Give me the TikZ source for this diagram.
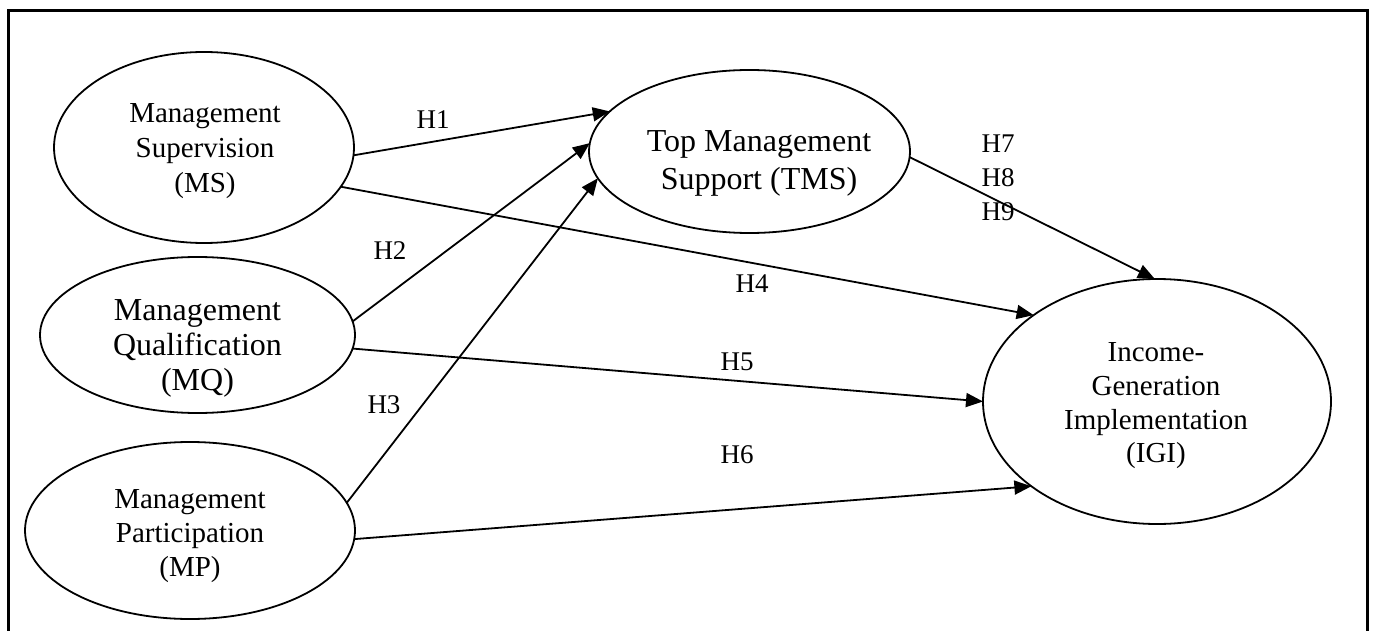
\documentclass[tikz,border=0pt]{standalone}
\usepackage{fontspec}
\setmainfont{Liberation Serif}
\usetikzlibrary{arrows.meta,shapes.geometric}
\tikzset{
  construct/.style={ellipse,draw,line width=1.8pt,inner sep=0pt,outer sep=0pt},
  ctext/.style={align=center,inner sep=0pt},
  hyp/.style={inner sep=0pt,font=\fontsize{27}{32}\selectfont},
  arr/.style={line width=1.8pt,-{Triangle[length=17pt,width=14pt]}},
}
\begin{document}
\begin{tikzpicture}[x=1pt,y=-1pt]
\useasboundingbox (0,0) rectangle (1373,631);
% frame
\draw[line width=3pt] (8,650) -- (8,11) -- (1367,11) -- (1367,650);
% ellipses
\node[construct,minimum width=300pt,minimum height=191pt] (MS) at (204,147.5) {};
\node[construct,minimum width=315pt,minimum height=156pt] (MQ) at (197.5,335) {};
\node[construct,minimum width=330pt,minimum height=177pt] (MP) at (190,530.5) {};
\node[construct,minimum width=321pt,minimum height=163pt] (TMS) at (749.5,151.5) {};
\node[construct,minimum width=348pt,minimum height=245pt] (IGI) at (1157,401.5) {};
% texts
\node[ctext,font=\fontsize{29}{35}\selectfont] (MSt) at (205,151.5) {Management\\Supervision\\(MS)};
\node[ctext,font=\fontsize{32}{35}\selectfont] (MQt) at (197.5,348.5) {Management\\Qualification\\(MQ)};
\node[ctext,font=\fontsize{29}{34}\selectfont] (MPt) at (190,536) {Management\\Participation\\(MP)};
\node[ctext,font=\fontsize{32}{38}\selectfont] (TMSt) at (759,163) {Top Management\\Support (TMS)};
\node[ctext,font=\fontsize{29}{33.7}\selectfont] (IGIt) at (1156,406) {Income-\\Generation\\Implementation\\(IGI)};
% connectors
\draw[arr] (MS.-3.2) -- (TMS.164.5);
\draw[arr] (MS.-16.7) -- (IGI.145.1);
\draw[arr] (MQ.5.4) -- (TMS.177.3);
\draw[arr] (MQ.-5.9) -- (IGI.180);
\draw[arr] (MP.10) -- (TMS.190.9);
\draw[arr] (MP.-3.3) -- (IGI.214.4);
\draw[arr] (TMS.-2) -- (IGI.91.9);
% hypothesis labels
\node[hyp] (H1) at (433,119.5) {H1};
\node[hyp] (H2) at (390,250.5) {H2};
\node[hyp] (H3) at (384,404.5) {H3};
\node[hyp] (H4) at (752,283.5) {H4};
\node[hyp] (H5) at (737,361.5) {H5};
\node[hyp] (H6) at (737,454.5) {H6};
\node[hyp] (H7) at (998,144) {H7};
\node[hyp] (H8) at (998,178) {H8};
\node[hyp] (H9) at (998,212) {H9};
\end{tikzpicture}
\end{document}
